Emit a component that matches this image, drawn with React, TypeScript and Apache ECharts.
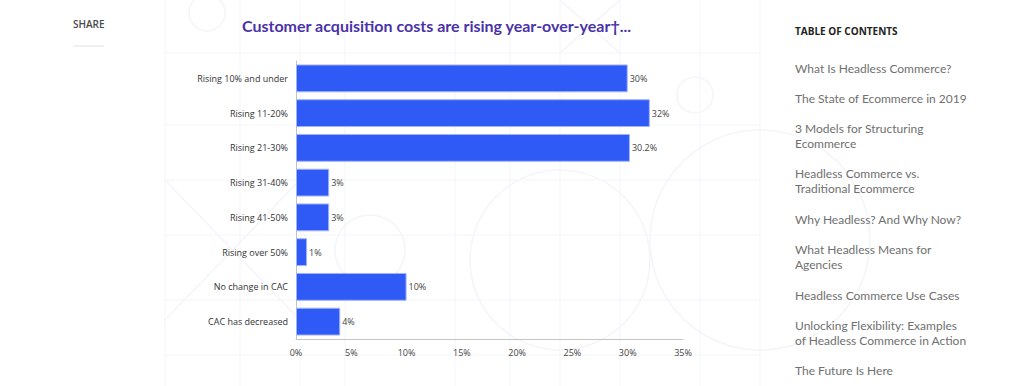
import React, { useEffect, useRef } from "react";
import * as echarts from "echarts";

const categories = [
  "Rising 10% and under",
  "Rising 11-20%",
  "Rising 21-30%",
  "Rising 31-40%",
  "Rising 41-50%",
  "Rising over 50%",
  "No change in CAC",
  "CAC has decreased",
];
const values = [30, 32, 30.2, 3, 3, 1, 10, 4];
const xMin = 0;
const xMax = 35;
const xStep = 5;

const chartTitle = "Customer acquisition costs are rising year-over-year\u2020...";
const shareLabel = "SHARE";
const tocHeading = "TABLE OF CONTENTS";
const tocItems = [
  ["What Is Headless Commerce?"],
  ["The State of Ecommerce in 2019"],
  ["3 Models for Structuring", "Ecommerce"],
  ["Headless Commerce vs.", "Traditional Ecommerce"],
  ["Why Headless? And Why Now?"],
  ["What Headless Means for", "Agencies"],
  ["Headless Commerce Use Cases"],
  ["Unlocking Flexibility: Examples", "of Headless Commerce in Action"],
  ["The Future Is Here"],
];

export default function App() {
  const ref = useRef<HTMLDivElement>(null);
  useEffect(() => {
    if (!ref.current) return;
    const chart = echarts.init(ref.current, undefined, { renderer: "svg" });

    const faint = "#f4f5f9";
    const bg: any[] = [];
    const vLines = [165, 240, 300, 345, 455, 510, 560, 620, 700, 760];
    vLines.forEach((x) =>
      bg.push({ type: "line", shape: { x1: x, y1: 0, x2: x, y2: 386 }, style: { stroke: faint, lineWidth: 1 }, silent: true })
    );
    [53, 125, 180, 235, 300, 355].forEach((y) =>
      bg.push({ type: "line", shape: { x1: 165, y1: y, x2: 760, y2: y }, style: { stroke: faint, lineWidth: 1 }, silent: true })
    );
    bg.push({ type: "circle", shape: { cx: 207, cy: 13, r: 18 }, style: { fill: "none", stroke: faint, lineWidth: 1.5 }, silent: true });
    bg.push({ type: "circle", shape: { cx: 695, cy: 95, r: 18 }, style: { fill: "none", stroke: faint, lineWidth: 1.5 }, silent: true });
    bg.push({ type: "circle", shape: { cx: 370, cy: 250, r: 35 }, style: { fill: "none", stroke: faint, lineWidth: 1.5 }, silent: true });
    bg.push({ type: "circle", shape: { cx: 560, cy: 260, r: 90 }, style: { fill: "none", stroke: faint, lineWidth: 1.5 }, silent: true });
    bg.push({ type: "circle", shape: { cx: 760, cy: 240, r: 110 }, style: { fill: "none", stroke: faint, lineWidth: 1.5 }, silent: true });
    bg.push({ type: "line", shape: { x1: 165, y1: 180, x2: 300, y2: 320 }, style: { stroke: faint, lineWidth: 1.5 }, silent: true });
    bg.push({ type: "line", shape: { x1: 165, y1: 320, x2: 300, y2: 180 }, style: { stroke: faint, lineWidth: 1.5 }, silent: true });
    bg.push({ type: "line", shape: { x1: 560, y1: 0, x2: 620, y2: 53 }, style: { stroke: faint, lineWidth: 1.5 }, silent: true });
    bg.push({ type: "line", shape: { x1: 620, y1: 0, x2: 560, y2: 53 }, style: { stroke: faint, lineWidth: 1.5 }, silent: true });

    const side: any[] = [];
    side.push({
      type: "text",
      left: 73,
      top: 19,
      style: { text: shareLabel, fill: "#4a4a4a", font: "600 10px 'Open Sans'" },
    });
    side.push({ type: "line", shape: { x1: 73, y1: 46, x2: 104, y2: 46 }, style: { stroke: "#e2e2e2", lineWidth: 1 } });
    side.push({
      type: "text",
      left: 242,
      top: 17,
      style: { text: chartTitle, fill: "#4a32a8", font: "bold 16px Lato" },
    });
    side.push({
      type: "text",
      left: 795,
      top: 26,
      style: { text: tocHeading, fill: "#222", font: "bold 10px 'Open Sans'" },
    });
    const tocY = [70, 100, 130, 175, 221, 251, 297, 327, 372];
    tocItems.forEach((lines, i) => {
      lines.forEach((ln, j) => {
        side.push({
          type: "text",
          left: 795,
          top: tocY[i] + j * 15 - 8,
          style: { text: ln, fill: "#707070", font: "12px Lato" },
        });
      });
    });

    chart.setOption({
      animation: false,
      backgroundColor: "#fff",
      grid: { left: 296, right: 341, top: 61, bottom: 47, containLabel: false },
      xAxis: {
        type: "value",
        min: xMin,
        max: xMax,
        interval: xStep,
        axisLine: { show: true, lineStyle: { color: "#c4c4c4" } },
        axisTick: { show: false },
        splitLine: { show: false },
        axisLabel: { formatter: "{value}%", color: "#444", fontSize: 9, fontFamily: "'Open Sans'", margin: 9 },
      },
      yAxis: {
        type: "category",
        data: categories,
        inverse: true,
        axisLine: { show: true, lineStyle: { color: "#c4c4c4" } },
        axisTick: { show: false },
        axisLabel: { color: "#333", fontSize: 9, fontFamily: "'Open Sans'", margin: 8 },
      },
      series: [
        {
          type: "bar",
          data: values,
          barCategoryGap: "20%",
          itemStyle: { color: "#2f5af5", borderColor: "#9fb2ff", borderWidth: 1 },
          label: {
            show: true,
            position: "right",
            distance: 2,
            formatter: (p: any) => p.value + "%",
            color: "#444",
            fontSize: 9,
            fontFamily: "'Open Sans'",
          },
        },
      ],
      graphic: [...bg, ...side],
    });
    return () => chart.dispose();
  }, []);
  return <div ref={ref} style={{ position: "fixed", left: 0, top: 0, width: 1024, height: 386 }} />;
}
